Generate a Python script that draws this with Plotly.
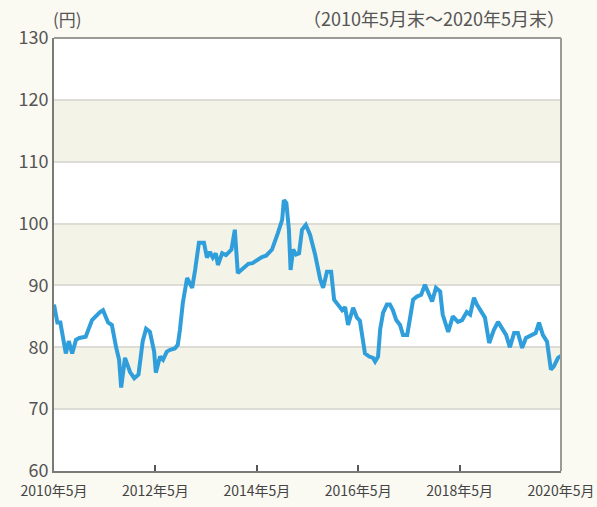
import plotly.graph_objects as go

# months since end of May 2010
months = [0, 0.8, 1.5, 2.8, 3.5, 4.3, 5.2, 6.0, 7.5, 9.0, 10.9, 11.6, 12.8, 13.7, 14.7, 15.4,
          15.9, 16.8, 18.0, 19.0, 20.0, 21.0, 21.8, 22.7, 23.7, 24.1, 25.1, 25.8, 26.7, 27.5,
          28.6, 29.3, 29.8, 30.5, 31.5, 32.2, 32.7, 33.4, 34.3, 35.5, 36.2, 36.9, 37.6, 38.3,
          38.8, 39.8, 40.7, 42.0, 42.8, 43.5, 45.0, 46.0, 47.0, 48.0, 49.2, 50.2, 51.6, 53.0,
          54.0, 54.4, 55.0, 55.6, 56.0, 56.6, 57.3, 58.0, 58.7, 59.6, 60.6, 61.8, 63.0, 63.7,
          64.6, 65.6, 66.3, 67.2, 68.2, 68.9, 69.6, 70.8, 71.7, 72.4, 73.1, 73.6, 74.6, 75.5,
          76.0, 76.7, 77.2, 77.9, 78.8, 79.5, 80.2, 81.0, 81.9, 82.6, 83.6, 84.3, 85.0, 85.9,
          86.9, 87.8, 88.5, 89.5, 90.4, 91.4, 92.0, 93.3, 94.4, 95.6, 96.6, 97.7, 98.5, 99.4,
          100.1, 101.3, 102.0, 103.0, 104.1, 105.1, 106.3, 107.0, 107.9, 108.9, 109.8, 110.8,
          111.7, 112.9, 114.0, 114.8, 115.7, 116.7, 117.6, 118.3, 119.3, 120.0]
values = [86.9, 84.0, 84.0, 79.0, 81.0, 79.0, 81.2, 81.5, 81.7, 84.4, 85.7, 86.0, 84.0, 83.6, 80.0, 78.0,
          73.5, 78.3, 76.0, 75.0, 75.6, 81.0, 83.0, 82.5, 79.3, 75.9, 78.5, 78.0, 79.3, 79.6,
          79.8, 80.4, 82.8, 87.2, 91.2, 90.4, 89.6, 92.5, 96.9, 96.9, 94.5, 95.4, 94.5, 95.2,
          93.3, 95.2, 94.9, 95.8, 99.0, 92.0, 92.8, 93.5, 93.6, 94.1, 94.6, 94.8, 95.8, 98.5,
          100.6, 103.8, 103.3, 99.0, 92.5, 95.8, 95.0, 95.2, 99.0, 99.8, 98.2, 95.0, 91.0, 89.6,
          92.2, 92.2, 87.7, 86.9, 86.0, 86.5, 83.6, 86.4, 84.8, 84.3, 81.5, 79.0, 78.5, 78.3,
          77.7, 78.5, 82.9, 85.6, 86.9, 86.9, 86.0, 84.4, 83.6, 82.0, 82.0, 85.0, 87.7, 88.2,
          88.5, 90.1, 88.8, 87.4, 89.6, 89.0, 85.3, 82.5, 85.0, 84.1, 84.4, 85.7, 85.3, 88.0,
          86.9, 85.6, 84.8, 80.7, 82.8, 84.1, 82.8, 82.0, 80.0, 82.3, 82.3, 79.9,
          81.5, 82.0, 82.3, 84.0, 82.0, 80.9, 76.4, 76.9, 78.3, 78.6]

tick_pos = [0, 24, 48, 72, 96, 120]
tick_text = ["2010年5月", "2012年5月", "2014年5月", "2016年5月", "2018年5月", "2020年5月"]
y_ticks = [60, 70, 80, 90, 100, 110, 120, 130]
shaded_bands = [(70, 80), (90, 100), (110, 120)]

FONT = "Noto Sans CJK JP"
BG = "#faf9f2"
fig = go.Figure()
fig.add_trace(go.Scatter(x=months, y=values, mode="lines",
                         line=dict(color="#2f9edb", width=4), hoverinfo="skip"))

shapes = []
for lo, hi in shaded_bands:
    shapes.append(dict(type="rect", xref="paper", yref="y", x0=0, x1=1, y0=lo, y1=hi,
                       fillcolor="#f4f3e7", line=dict(width=0), layer="below"))
shapes.append(dict(type="line", xref="paper", yref="paper", x0=0, x1=1, y0=1, y1=1,
                   line=dict(color="#9a9a96", width=2)))
shapes.append(dict(type="line", xref="paper", yref="paper", x0=1, x1=1, y0=0, y1=1,
                   line=dict(color="#9a9a96", width=2)))

fig.update_layout(
    width=597, height=507,
    margin=dict(l=54, r=36, t=38, b=36, autoexpand=False),
    paper_bgcolor=BG, plot_bgcolor="#ffffff",
    showlegend=False,
    shapes=shapes,
    font=dict(family=FONT, color="#555555"),
    annotations=[
        dict(text="(円)", xref="paper", yref="paper", x=-0.005, y=1.0, xanchor="left",
             yanchor="bottom", yshift=5, showarrow=False, font=dict(size=17, color="#555555")),
        dict(text="（2010年5月末～2020年5月末）", xref="paper", yref="paper", x=1.0, y=1.0,
             xanchor="right", yanchor="bottom", yshift=5, xshift=6, showarrow=False,
             font=dict(size=18, color="#555555")),
    ],
)
fig.update_xaxes(range=[0, 120], tickvals=tick_pos, ticktext=tick_text, showgrid=False,
                 ticks="inside", ticklen=6, tickcolor="#555555", tickwidth=1.5, automargin=False,
                 showline=True, linecolor="#7a7a76", linewidth=2, ticklabelstandoff=6,
                 tickfont=dict(family="Liberation Sans Narrow, Noto Sans CJK JP", size=14,
                               color="#444444"), zeroline=False)
fig.update_yaxes(range=[60, 130], tickvals=y_ticks, showgrid=True, gridcolor="#dcdcd4",
                 gridwidth=1.5, showline=True, linecolor="#7a7a76", linewidth=2, automargin=False,
                 tickfont=dict(size=18, color="#555555"), zeroline=False, ticks="")

fig.write_html("out.html", config={"displayModeBar": False},
               post_script="document.body.style.margin='0';document.body.style.background='%s';" % BG)
